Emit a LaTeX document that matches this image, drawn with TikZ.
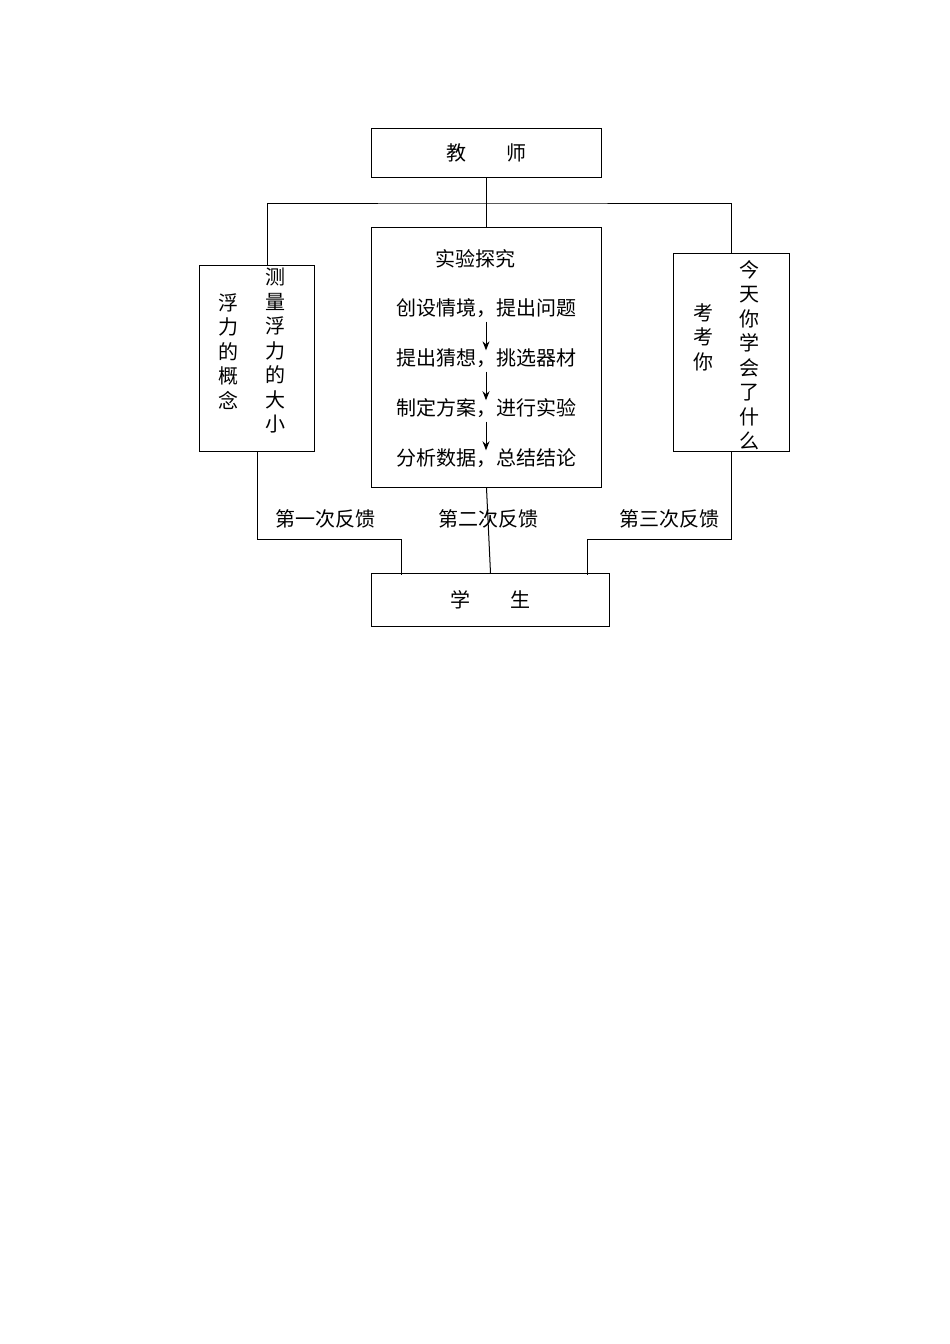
\documentclass[tikz,border=0pt]{standalone}
\usepackage{fontspec}
\setmainfont{Noto Sans CJK SC}
\usetikzlibrary{positioning,arrows.meta}

\begin{document}
\begin{tikzpicture}[x=1pt,y=-1pt,
	boxnode/.style={draw=black, line width=1pt, anchor=north west, inner sep=0pt},
	txtnode/.style={font=\fontsize{20}{24.5}\selectfont, inner sep=0pt, align=center},
	stepnode/.style={font=\fontsize{20}{24}\selectfont, inner sep=0pt},
	link/.style={line width=1pt}]
	\useasboundingbox (0,0) rectangle (950,1344);

	% boxes
	\node[boxnode, minimum width=230pt, minimum height=49pt] (teacher) at (371,128) {};
	\node[txtnode] at (teacher.center) {教\hspace{2em}师};
	\node[boxnode, minimum width=230pt, minimum height=260pt] (expt) at (371,227) {};
	\node[boxnode, minimum width=115pt, minimum height=186pt] (concept) at (199,265) {};
	\node[boxnode, minimum width=116pt, minimum height=198pt] (quiz) at (673,253) {};
	\node[boxnode, minimum width=238pt, minimum height=53pt] (student) at (371,573) {};
	\node[txtnode] at (student.center) {学\hspace{2em}生};

	% vertical texts
	\node[txtnode, anchor=north] (c1) at (228,293) {浮\\力\\的\\概\\念};
	\node[txtnode, anchor=north] (c2) at (275,268) {测\\量\\浮\\力\\的\\大\\小};
	\node[txtnode, anchor=north] (q1) at (703,303) {考\\考\\你};
	\node[txtnode, anchor=north] (q2) at (749,260) {今\\天\\你\\学\\会\\了\\什\\么};

	% steps
	\node[stepnode] (title) at (475,259) {实验探究};
	\node[stepnode] (s1) at (486,308) {创设情境，提出问题};
	\node[stepnode] (s2) at (486,358) {提出猜想，挑选器材};
	\node[stepnode] (s3) at (486,408) {制定方案，进行实验};
	\node[stepnode] (s4) at (486,458) {分析数据，总结结论};
	\foreach \a/\b in {s1/s2, s2/s3, s3/s4}
		\draw[link, -{Stealth[length=9pt,width=7pt]}, shorten <=4pt, shorten >=-2pt] (\a.south) -- (\b.north);

	% links
	\coordinate (top) at (486,203);
	\draw[link] (teacher.south) -- (expt.north);
	\draw[link] (concept.north -| c1.east) ++(29,0) |- (top) -| (quiz.north -| 731,0);
	\draw[link] (expt.south) -- (student.north);
	\draw[link] (257,451) |- (401,539) -- (401,575);
	\draw[link] (731,451) |- (587,539) -- (587,575);

	% labels
	\node[stepnode] (fb1) at (325,519) {第一次反馈};
	\node[stepnode] (fb2) at (488,519) {第二次反馈};
	\node[stepnode] (fb3) at (669,519) {第三次反馈};
\end{tikzpicture}
\end{document}
